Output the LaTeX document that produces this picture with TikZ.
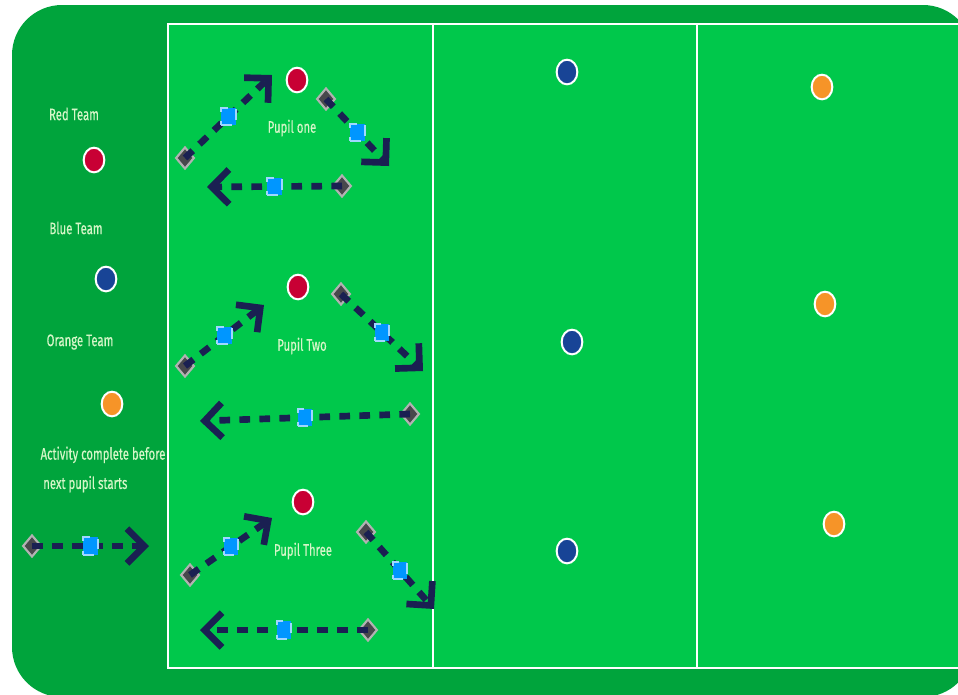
\documentclass[tikz,border=0pt]{standalone}
\usepackage{fontspec}
\newfontfamily\pitchfont{Fira Sans}[FakeStretch=0.68, FakeBold=0.4]
\usepackage{tikz}
\usetikzlibrary{arrows.meta, positioning, shapes.geometric}
\definecolor{pitchBoard}{RGB}{0,164,60}
\definecolor{pitchGrass}{RGB}{0,200,75}
\definecolor{pitchText}{RGB}{214,246,200}
\definecolor{runInk}{RGB}{26,32,82}
\definecolor{teamRed}{RGB}{200,0,52}
\definecolor{teamBlue}{RGB}{24,68,150}
\definecolor{teamOrange}{RGB}{246,148,40}
\definecolor{coneFill}{RGB}{72,72,76}
\definecolor{coneEdge}{RGB}{178,178,178}
\definecolor{markFill}{RGB}{0,150,255}
\definecolor{markEdge}{RGB}{160,215,255}
\tikzset{
  % the rounded board and the grass area with its white lines
  board/.style={fill=pitchBoard, rounded corners=37.5pt},
  grass/.style={fill=pitchGrass, draw=white, line width=1.6pt},
  whiteline/.style={draw=white, line width=1.6pt},
  % small captions on the pitch
  caption/.style={font=\pitchfont\fontsize{12.5}{14}\selectfont, text=pitchText, inner sep=1pt},
  % team dots; the colour is given by one of the styles below
  dot/.style={ellipse, draw=white, line width=1.5pt, inner sep=0pt,
              minimum width=15.5pt, minimum height=18.5pt},
  reddot/.style={dot, fill=teamRed},
  bluedot/.style={dot, fill=teamBlue},
  orangedot/.style={dot, fill=teamOrange},
  % cone where a run starts, and the marker half way
  cone/.style={diamond, fill=coneFill, draw=coneEdge, line width=1.6pt,
               inner sep=0pt, minimum width=14pt, minimum height=16.5pt},
  marker/.style={rectangle, fill=markFill, draw=markEdge, line width=1.3pt,
                 inner sep=0pt, minimum width=11pt, minimum height=13pt},
  % the dashed run of a pupil
  run/.style={draw=runInk, line width=5pt, dash pattern=on 8pt off 7pt,
              -{Straight Barb[length=13pt, width=26pt]}},
}
\begin{document}
\begin{tikzpicture}[x=0.75pt, y=-0.75pt]
\useasboundingbox (0,0) rectangle (958,694);

% ============================== board ======================================
\fill[board] (12,5) rectangle (973,697);
\draw[grass] (168,24) rectangle (980,668);
\draw[whiteline] (433,24) -- (433,668);
\draw[whiteline] (697,24) -- (697,668);

% ============================== legend =====================================
\node[caption] (lred) at (74,114) {Red Team};
\node[reddot] (kred) at (94,160) {};
\node[caption] (lblue) at (76,228) {Blue Team};
\node[bluedot] (kblue) at (106,279) {};
\node[caption] (lorange) at (80,342) {Orange Team};
\node[orangedot] (korange) at (112,404) {};
\node[caption, align=left, anchor=north west] (lrule) at (39,445)
      {Activity complete before\\[8pt]\hspace{2pt}next pupil starts};

\node[cone] (kcone) at (32,546) {};
\coordinate (kend) at (149,546);
\draw[run] (kcone.center) -- (kend) node[marker, midway] (kmark) {};

% ============================== pupil one ==================================
\node[reddot] (r1) at (297,80) {};
\node[caption] (t1) at (292,128) {Pupil one};

\node[cone] (c1a) at (185,158) {};
\node[cone] (c1b) at (326,99) {};
\node[cone] (c1c) at (342,186) {};
\coordinate (e1a) at (272,75);
\coordinate (e1b) at (389,166);
\coordinate (e1c) at (207,187);

\draw[run] (c1a.center) -- (e1a) node[marker, midway] (m1a) {};
\draw[run] (c1b.center) -- (e1b) node[marker, midway] (m1b) {};
\draw[run] (c1c.center) -- (e1c) node[marker, midway] (m1c) {};

% ============================== pupil two ==================================
\node[reddot] (r2) at (298,287) {};
\node[caption] (t2) at (302,346) {Pupil Two};

\node[cone] (c2a) at (185,366) {};
\node[cone] (c2b) at (341,294) {};
\node[cone] (c2c) at (410,414) {};
\coordinate (e2a) at (264,305);
\coordinate (e2b) at (423,371);
\coordinate (e2c) at (200,421);

\draw[run] (c2a.center) -- (e2a) node[marker, midway] (m2a) {};
\draw[run] (c2b.center) -- (e2b) node[marker, midway] (m2b) {};
\draw[run] (c2c.center) -- (e2c) node[marker, midway] (m2c) {};

% ============================== pupil three ================================
\node[reddot] (r3) at (303,502) {};
\node[caption] (t3) at (303,551) {Pupil Three};

\node[cone] (c3a) at (190,575) {};
\node[cone] (c3b) at (366,532) {};
\node[cone] (c3c) at (368,630) {};
\coordinate (e3a) at (272,518);
\coordinate (e3b) at (434,609);
\coordinate (e3c) at (200,630);

\draw[run] (c3a.center) -- (e3a) node[marker, midway] (m3a) {};
\draw[run] (c3b.center) -- (e3b) node[marker, midway] (m3b) {};
\draw[run] (c3c.center) -- (e3c) node[marker, midway] (m3c) {};

% ============================== other teams ================================
\node[bluedot] (b1) at (567,72) {};
\node[bluedot] (b2) at (572,342) {};
\node[bluedot] (b3) at (567,551) {};
\node[orangedot] (o1) at (822,87) {};
\node[orangedot] (o2) at (825,304) {};
\node[orangedot] (o3) at (834,524) {};

\end{tikzpicture}
\end{document}
